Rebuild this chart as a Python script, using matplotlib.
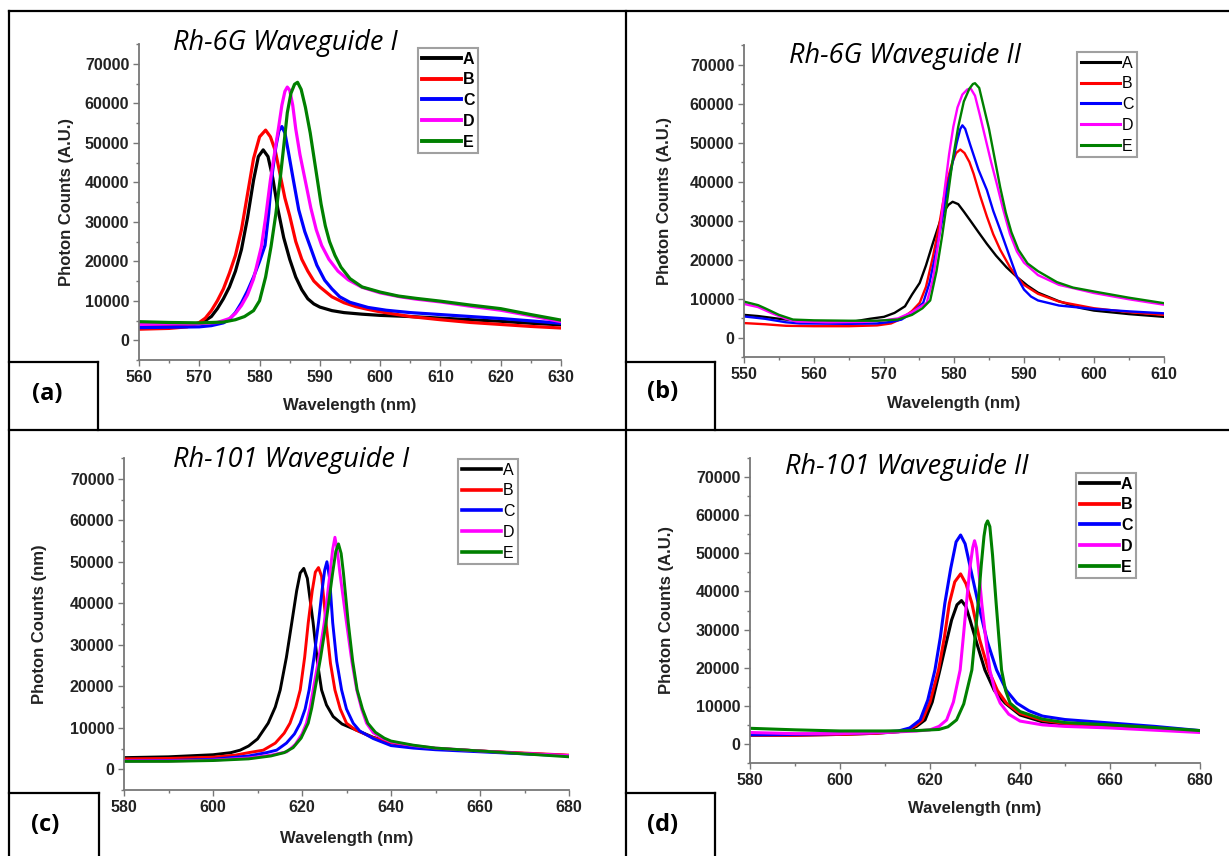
import numpy as np
import matplotlib
matplotlib.use("Agg")
import matplotlib.pyplot as plt
from matplotlib.lines import Line2D
from matplotlib.ticker import MultipleLocator

# ---- data (counts in thousands) ----
series_names = ["A", "B", "C", "D", "E"]
series_colors = ["#000000", "#ff0000", "#0000ff", "#ff00ff", "#008000"]

# (a) Rh-6G Waveguide I
wl_a_A = [560, 565, 570, 571, 572, 573, 574, 575, 576, 577, 578, 579, 579.8, 580.6, 581.4, 582.2, 583, 584, 585, 586,
          587, 588, 589, 590, 592, 594, 597, 600, 605, 610, 615, 620, 625, 630]
ct_a_A = [3.7, 3.8, 4.2, 5.0, 6.0, 8.0, 10.5, 13.5, 17.5, 23, 31, 40.5, 46.5, 48.2, 46.5, 41, 33.5, 26, 20.5, 16,
          12.8, 10.5, 9.2, 8.4, 7.5, 7.0, 6.6, 6.3, 6.0, 5.6, 5.2, 4.8, 4.3, 3.9]
wl_a_B = [560, 565, 568, 570, 571, 572, 573, 574, 575, 576, 577, 578, 579, 580, 581, 581.8, 582.6, 583.4, 584.2, 585,
          586, 587, 588, 589, 590, 592, 594, 596, 598, 600, 605, 610, 615, 620, 625, 630]
ct_a_B = [2.8, 3.0, 3.4, 4.5, 5.6, 7.5, 10, 13, 17, 21.5, 28, 37, 46, 51.5, 53.2, 51.5, 48, 42, 36, 31.5,
          25, 20.5, 17.5, 15, 13.5, 11, 9.5, 8.5, 7.8, 7.2, 6.0, 5.2, 4.5, 4.0, 3.5, 3.1]
wl_a_C = [560, 565, 570, 572, 574, 575, 576, 577, 578, 579, 580, 580.9, 581.5, 582, 582.7, 583.2, 583.7, 584.2, 584.8,
          585.6, 586.5, 587.5, 588.4, 589.5, 590.8, 592, 593.3, 595, 598, 601, 605, 610, 615, 620, 625, 630]
ct_a_C = [3.2, 3.3, 3.4, 3.7, 4.4, 5.3, 7, 9.5, 12.5, 16, 20, 24, 32, 41, 49, 53, 54.1, 52.5, 47.5,
          40.6, 33, 27.5, 23.7, 19, 15.2, 13, 11, 9.6, 8.3, 7.6, 7.0, 6.5, 6.0, 5.5, 4.9, 4.3]
wl_a_D = [560, 565, 570, 573, 575, 576, 577, 578, 579, 580.3, 581, 581.8, 582.5, 583.1, 583.7, 584.2, 584.6, 585,
          585.5, 586, 586.7, 587.5, 588.5, 589.4, 590.3, 591.5, 593, 594.7, 597, 600, 603.3, 606, 610, 615, 620,
          625, 630]
ct_a_D = [4.0, 4.1, 4.2, 4.5, 5.5, 6.8, 8.8, 11.5, 15.5, 23.7, 31, 40.6, 47.5, 53.3, 59.5, 63, 64.1, 63.3,
          59.5, 53.5, 47, 41, 33.5, 28, 24, 20.5, 17.5, 15.3, 13.4, 12, 11, 10.4, 9.7, 8.6, 7.6, 6.2, 4.7]
wl_a_E = [560, 565, 570, 574, 576, 577.5, 579, 580, 581, 581.9, 582.7, 583.4, 584, 584.6, 585.2, 585.8, 586.3, 586.9,
          587.6, 588.4, 589, 589.6, 590.2, 590.9, 591.6, 592.5, 593.5, 595, 597, 600, 603, 606, 610, 615, 620, 625,
          630]
ct_a_E = [4.7, 4.5, 4.4, 4.6, 5.2, 6.0, 7.5, 10, 16, 23.7, 32, 40.6, 49, 57.6, 62.5, 64.8, 65.3, 63.5,
          59, 52.5, 46.5, 40.5, 34.5, 29, 25, 21.5, 18.5, 15.6, 13.5, 12.2, 11.2, 10.6, 9.9, 8.9, 8.0, 6.5, 5.1]

# (b) Rh-6G Waveguide II
wl_b_A = [550, 552, 555, 558, 562, 566, 568, 570, 571.5, 573, 574, 575.1, 576, 577, 578.4, 579.2, 579.8, 580.6,
          581.4, 582.4, 583.5, 584.7, 586, 587.5, 589, 590.5, 592, 595, 598, 600, 605, 610]
ct_b_A = [5.8, 5.5, 4.8, 4.2, 4.0, 4.2, 4.8, 5.3, 6.3, 8, 11, 14, 18.5, 24.3, 31.9, 34, 34.8, 34.2,
          32.3, 29.8, 27, 24, 21, 18, 15.5, 13.3, 11.5, 9.3, 7.6, 6.9, 6.0, 5.3]
wl_b_B = [550, 553, 556, 560, 565, 569, 571, 572.5, 574, 575.1, 576, 577, 577.8, 578.5, 579.1, 579.7, 580.3, 580.9,
          581.5, 582.2, 582.8, 583.7, 584.7, 585.6, 586.6, 588, 589, 590, 592, 595, 600, 605, 610]
ct_b_B = [3.7, 3.4, 3.0, 2.9, 2.9, 3.1, 3.6, 4.8, 6.8, 8.9, 13, 20.8, 28, 35.3, 40.5, 44.6, 47.3, 48.2,
          47.3, 45, 42, 36.5, 31, 26.5, 22.5, 18, 15.5, 13.5, 11.2, 9.2, 7.5, 6.5, 5.8]
wl_b_C = [550, 553, 556, 558, 565, 569, 571, 572.5, 574, 575.6, 576.5, 577.5, 578.3, 579, 579.7, 580.4, 580.9, 581.2,
          581.6, 582.3, 583.5, 584.7, 585.6, 586.6, 588, 589, 590, 591, 592, 595, 600, 605, 610]
ct_b_C = [5.4, 4.8, 3.9, 3.6, 3.5, 3.6, 4.0, 4.6, 6.3, 8.9, 14, 22.5, 30, 37.8, 44, 50, 53.5, 54.4,
          53.5, 49.5, 43, 37.8, 32.5, 27.6, 20.5, 15.5, 12.3, 10.5, 9.5, 8.2, 7.3, 6.7, 6.2]
wl_b_D = [550, 552, 554, 556, 557.5, 562, 567, 570, 572, 574, 576.1, 577, 577.9, 578.6, 579.3, 579.9, 580.5, 581.2,
          581.9, 582.4, 583, 583.7, 584.5, 585.3, 586.1, 587, 588, 589, 590, 592, 595, 600, 605, 610]
ct_b_D = [8.6, 7.8, 6.2, 4.8, 4.1, 3.9, 4.0, 4.4, 4.9, 6.5, 8.9, 15, 26.1, 37, 47, 54, 59, 62.3,
          63.6, 63.8, 62, 57, 51, 45, 39.5, 33, 26.5, 22, 19.2, 16, 13.5, 11.4, 9.8, 8.4]
wl_b_E = [550, 552, 553, 555, 557, 560, 565, 569, 572, 574, 575.5, 576.6, 577.5, 578.3, 579.1, 579.8, 580.6, 581.4,
          582.2, 582.7, 583, 583.6, 584.2, 585, 585.8, 586.6, 587.4, 588.2, 589.2, 590.5, 592, 594.7, 597, 600, 605,
          610]
ct_b_E = [9.2, 8.3, 7.5, 5.8, 4.6, 4.4, 4.3, 4.3, 4.6, 5.8, 7.5, 9.5, 17, 26, 36, 45.4, 54, 60.5,
          63.8, 65, 65.2, 64, 59.5, 53.5, 46, 38.5, 32, 27, 22.5, 19, 17, 14.2, 12.8, 11.8, 10.2, 8.8]

# (c) Rh-101 Waveguide I
wl_c_A = [580, 590, 600, 604, 606.1, 608, 610, 612.4, 614, 615.1, 616.5, 617.7, 618.8, 619.6, 620.4, 621.2, 622.5,
          623.5, 624.4, 625.5, 627, 629, 632.3, 636, 640, 645, 650, 660, 670, 680]
ct_c_A = [2.8, 3.0, 3.5, 4.0, 4.6, 5.6, 7.3, 11.1, 15, 19.1, 27, 35.3, 43, 47.3, 48.4, 46, 35.3,
          25.5, 19.1, 15.5, 12.7, 10.9, 9.4, 7.7, 6.4, 5.6, 5.0, 4.4, 3.8, 3.3]
wl_c_B = [580, 590, 600, 605, 608, 611.3, 614, 616, 617.3, 618.6, 619.6, 620.6, 621.4, 622.3, 623, 623.7, 624.4,
          625.4, 626.4, 627.4, 628.6, 630, 632, 636, 640, 645, 650, 660, 670, 680]
ct_c_B = [2.5, 2.6, 2.9, 3.4, 4.0, 4.6, 6.3, 8.7, 11.1, 15, 19.1, 27, 35.3, 43, 47.5, 48.6, 46.5,
          35.3, 25.5, 19.1, 14.5, 11.1, 9.5, 7.6, 6.4, 5.6, 5.0, 4.4, 3.9, 3.4]
wl_c_C = [580, 590, 600, 608, 612, 614.3, 616.5, 618.3, 619.6, 620.7, 621.6, 622.7, 623.7, 624.5, 625.1, 625.6,
          626.2, 626.9, 627.8, 628.9, 630, 631.5, 633, 636, 640, 645, 650, 660, 670, 680]
ct_c_C = [2.0, 2.1, 2.4, 3.2, 4.0, 4.6, 6.3, 8.5, 11.1, 14.5, 19.1, 27, 35.3, 43, 48, 50,
          46, 35.3, 26, 19.1, 14.5, 11.1, 9.2, 7.4, 5.7, 5.1, 4.7, 4.2, 3.7, 3.2]
wl_c_D = [580, 590, 600, 608, 613, 616.6, 618.5, 620, 621, 621.8, 622.5, 623.8, 625, 626.3, 626.9, 627.4, 627.9,
          628.5, 630, 631.2, 632.3, 633.4, 634.5, 636, 638, 640, 645, 650, 660, 670, 680]
ct_c_D = [2.0, 2.0, 2.2, 2.7, 3.4, 4.2, 6, 8.5, 11.1, 14.8, 19.1, 27, 35.3, 47.4, 53, 55.9, 53,
          47.4, 35.3, 26, 19.1, 14.5, 11.1, 8.8, 7.5, 6.6, 5.7, 5.1, 4.4, 3.8, 3.3]
wl_c_E = [580, 590, 600, 608, 613, 616, 618, 619.8, 621.4, 622.2, 622.9, 624.2, 625.4, 626.9, 627.6, 628.2, 628.8,
          629.3, 630.4, 631.4, 632.4, 633.6, 634.8, 636.5, 638.5, 640, 645, 650, 660, 670, 680]
ct_c_E = [1.9, 1.9, 2.1, 2.5, 3.2, 4.0, 5.2, 7.5, 11.1, 14.8, 19.1, 27, 35.3, 47.4, 52.5, 54.3, 52,
          47.4, 35.3, 26, 19.1, 14.5, 11.1, 8.9, 7.5, 6.8, 5.8, 5.1, 4.4, 3.7, 3.0]

# (d) Rh-101 Waveguide II
wl_d_A = [580, 590, 600, 608, 613, 615, 617, 618.9, 620.5, 622.2, 623.5, 624.8, 626, 627, 628, 628.9, 630.5, 632.2,
          634.3, 636.7, 640, 645, 650, 660, 670, 680]
ct_d_A = [2.3, 2.3, 2.5, 2.8, 3.2, 3.6, 4.6, 6.3, 11, 19.4, 26, 32.5, 36.5, 37.6, 36, 32.5, 26, 19.4,
          14, 10.7, 7.6, 5.8, 5.2, 4.5, 3.9, 3.3]
wl_d_B = [580, 590, 600, 608, 613, 615, 616.8, 618.3, 620, 621.9, 623.2, 624.3, 625.5, 626.8, 628, 629.3, 631, 633,
          635, 637, 640, 645, 650, 660, 670, 680]
ct_d_B = [2.3, 2.3, 2.5, 2.8, 3.3, 3.8, 4.8, 6.3, 11, 19.4, 28, 36.9, 42.5, 44.6, 42, 36.9, 27.5, 19.4,
          14, 10.7, 8.0, 6.2, 5.4, 4.6, 3.9, 3.3]
wl_d_C = [580, 590, 600, 608, 613, 615.5, 617.8, 619.5, 621.1, 622.3, 623.3, 624.6, 625.8, 626.8, 627.8, 629.2,
          630.7, 632.7, 634.8, 637, 639.3, 642, 645, 650, 660, 670, 680]
ct_d_C = [2.4, 2.5, 2.7, 3.0, 3.4, 4.2, 6.3, 11.5, 19.4, 28, 36.9, 46, 53, 54.8, 52.5, 45,
          36.9, 27, 19.4, 14, 10.7, 8.7, 7.3, 6.4, 5.5, 4.6, 3.5]
wl_d_D = [580, 590, 600, 610, 617, 620, 622, 623.7, 625.2, 626.7, 627.4, 628.1, 628.9, 629.5, 629.9, 630.3, 630.8,
          631.5, 632.4, 633.3, 634.4, 635.6, 637.5, 640, 645, 650, 660, 670, 680]
ct_d_D = [3.0, 2.7, 2.7, 3.0, 3.4, 3.7, 4.6, 6.3, 11, 19.4, 28, 36.9, 46.5, 51.5, 53.3, 51.5, 46,
          36.9, 27.5, 19.4, 14, 10.7, 7.8, 6.0, 5.0, 4.6, 4.2, 3.6, 3.0]
wl_d_E = [580, 585, 590, 600, 610, 617, 622, 624, 625.9, 627.5, 629.3, 630, 630.7, 631.4, 632, 632.4, 632.8, 633.3,
          633.9, 634.7, 635.3, 635.9, 636.8, 637.8, 640, 645, 650, 660, 670, 680]
ct_d_E = [4.1, 3.9, 3.7, 3.4, 3.4, 3.5, 3.8, 4.5, 6.3, 10.5, 19.4, 28, 36.9, 47, 54.5, 57.5, 58.5, 57,
          49.5, 36.9, 28, 19.4, 14, 10.7, 8.5, 6.5, 5.6, 5.0, 4.3, 3.5]

titles = ["Rh-6G Waveguide I", "Rh-6G Waveguide II", "Rh-101 Waveguide I", "Rh-101 Waveguide II"]
ylabels = ["Photon Counts (A.U.)", "Photon Counts (A.U.)", "Photon Counts (nm)", "Photon Counts (A.U.)"]
panel_tags = ["(a)", "(b)", "(c)", "(d)"]
xranges = [(560, 630), (550, 610), (580, 680), (580, 680)]

panel_data = [
    [(wl_a_A, ct_a_A), (wl_a_B, ct_a_B), (wl_a_C, ct_a_C), (wl_a_D, ct_a_D), (wl_a_E, ct_a_E)],
    [(wl_b_A, ct_b_A), (wl_b_B, ct_b_B), (wl_b_C, ct_b_C), (wl_b_D, ct_b_D), (wl_b_E, ct_b_E)],
    [(wl_c_A, ct_c_A), (wl_c_B, ct_c_B), (wl_c_C, ct_c_C), (wl_c_D, ct_c_D), (wl_c_E, ct_c_E)],
    [(wl_d_A, ct_d_A), (wl_d_B, ct_d_B), (wl_d_C, ct_d_C), (wl_d_D, ct_d_D), (wl_d_E, ct_d_E)],
]

# ---- layout (pixels, y measured from the top) ----
W, H = 1229, 856
fig = plt.figure(figsize=(W / 100, H / 100), dpi=100)


def fx(px):
    return px / W


def fy(py):
    return 1 - py / H


axes_px = [(139, 561, 44, 360), (744, 1164, 45, 357), (124, 569, 458, 790), (750, 1200, 458, 763)]
xmajor = [10, 10, 20, 20]
line_w = [2.3, 1.7, 2.1, 2.2]
legend_bold = [True, False, False, True]
legend_pos = [(418, 48), (1077, 52), (458, 459), (1076, 473)]
title_pos = [(285, 43), (905, 56), (291, 460), (907, 467)]
tag_pos = [(47, 394), (663, 392), (45, 825), (663, 825)]
ylab_off = [73, 79, 84, 84]    # label centre, pixels left of the y axis
xlab_off = [46, 46, 48, 45]    # label centre, pixels below the x axis

for i in range(4):
    l, r, t, b = axes_px[i]
    ax = fig.add_axes([fx(l), fy(b), fx(r - l), (b - t) / H])
    for j, (wl, ct) in enumerate(panel_data[i]):
        ax.plot(wl, np.array(ct) * 1000, color=series_colors[j], lw=line_w[i], label=series_names[j],
                solid_joinstyle="round")
    ax.set_xlim(*xranges[i])
    ax.set_ylim(-5000, 75000)
    ax.xaxis.set_major_locator(MultipleLocator(xmajor[i]))
    ax.xaxis.set_minor_locator(MultipleLocator(xmajor[i] / 2))
    ax.yaxis.set_major_locator(MultipleLocator(10000))
    ax.yaxis.set_minor_locator(MultipleLocator(5000))
    for side in ["top", "right"]:
        ax.spines[side].set_visible(False)
    for side in ["left", "bottom"]:
        ax.spines[side].set_color("#777777")
        ax.spines[side].set_linewidth(1.3)
    ax.tick_params(which="major", direction="out", length=4, width=1, color="#777777", pad=3)
    ax.tick_params(which="minor", direction="out", length=2.5, width=1, color="#777777")
    for lab in ax.get_xticklabels() + ax.get_yticklabels():
        lab.set_fontfamily("Liberation Sans")
        lab.set_fontweight("bold")
        lab.set_fontsize(11.5)
        lab.set_color("#222222")
    ax.set_xlabel("Wavelength (nm)", family="Liberation Sans", weight="bold", size=12, color="#222222")
    ax.set_ylabel(ylabels[i], family="Liberation Sans", weight="bold", size=12, color="#222222")
    ax.xaxis.set_label_coords(0.5, -xlab_off[i] / (b - t))
    ax.yaxis.set_label_coords(-ylab_off[i] / (r - l), 0.5)
    ax.xaxis.label.set_va("center")
    ax.yaxis.label.set_va("center")
    ax.patch.set_alpha(0)

    lx, ly = legend_pos[i]
    leg = ax.legend(loc="upper left", bbox_to_anchor=(fx(lx), fy(ly)), bbox_transform=fig.transFigure,
                    frameon=True, fancybox=False, borderaxespad=0, handlelength=2.5, handletextpad=0.1,
                    labelspacing=0.36, borderpad=0.22,
                    prop={"family": "Liberation Sans", "size": 11.5,
                          "weight": "bold" if legend_bold[i] else "normal"})
    leg.get_frame().set_edgecolor("#888888")
    leg.get_frame().set_linewidth(1.5)
    for h in leg.get_lines():
        h.set_linewidth(line_w[i] + 0.5)

    tx, ty = title_pos[i]
    fig.text(fx(tx), fy(ty), titles[i], family="Open Sans", style="italic", size=19.5, ha="center", va="center")

    gx, gy = tag_pos[i]
    fig.text(fx(gx), fy(gy), panel_tags[i], family="Open Sans", weight="bold", size=17, ha="center", va="center")

# ---- frame lines around the panels ----
frame_lines = [
    ((9, 1229), (11, 11)),
    ((9, 9), (11, 856)),
    ((626, 626), (11, 856)),
    ((9, 1229), (430, 430)),
    ((9, 98), (362, 362)), ((98, 98), (362, 430)),
    ((626, 715), (362, 362)), ((715, 715), (362, 430)),
    ((9, 99), (793, 793)), ((99, 99), (793, 856)),
    ((626, 715), (793, 793)), ((715, 715), (793, 856)),
]
for xs, ys in frame_lines:
    fig.add_artist(Line2D([fx(v) for v in xs], [fy(v) for v in ys], color="black", lw=1.6,
                          transform=fig.transFigure))

fig.savefig("out.png", dpi=100)
